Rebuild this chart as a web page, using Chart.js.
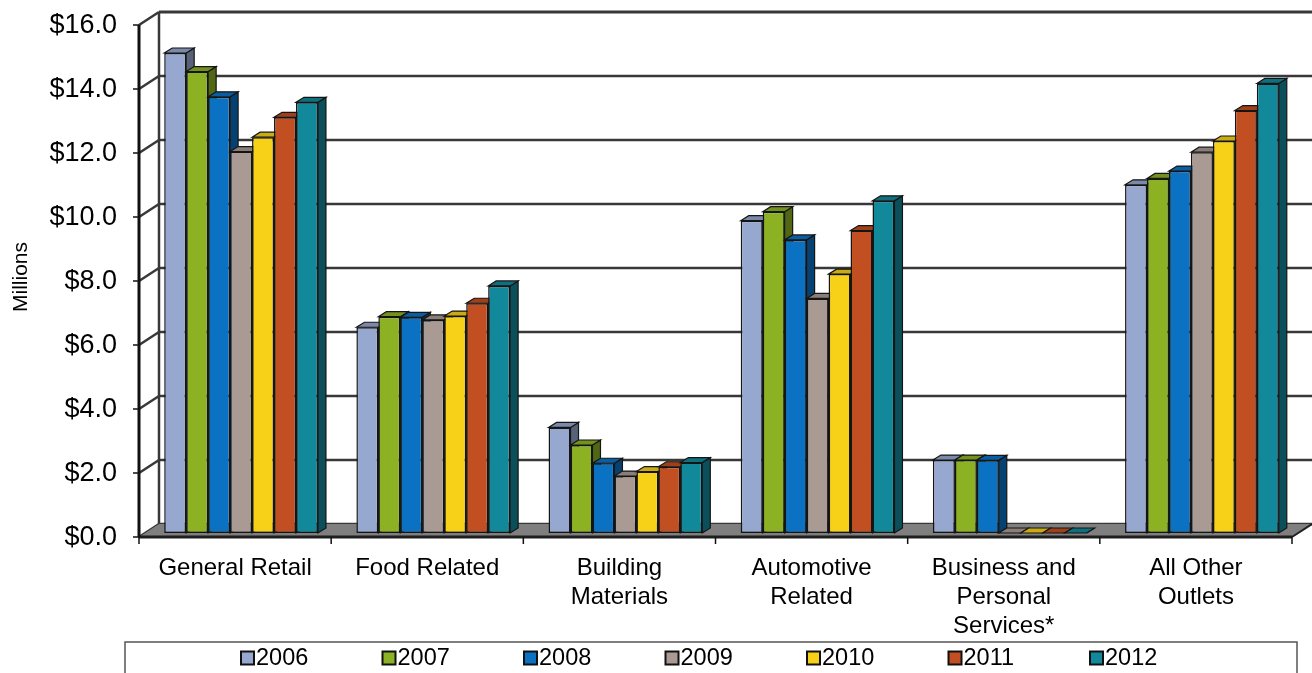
<!DOCTYPE html>
<html>
<head>
<meta charset="utf-8">
<title>Sales by Category</title>
<script src="https://cdn.jsdelivr.net/npm/chart.js@4.4.0/dist/chart.umd.min.js"></script>
<style>
  html, body { margin: 0; padding: 0; background: #ffffff; }
  #wrap { width: 1312px; height: 673px; }
</style>
</head>
<body>
<div id="wrap"><canvas id="salesChart" width="1312" height="673"></canvas></div>
<script>
// ------------------------------------
// Data (millions of dollars)
// ------------------------------------
const categories = [
    ['General Retail'],
    ['Food Related'],
    ['Building', 'Materials'],
    ['Automotive', 'Related'],
    ['Business and', 'Personal', 'Services*'],
    ['All Other', 'Outlets']
];
const years = ['2006', '2007', '2008', '2009', '2010', '2011', '2012'];

const sales2006 = [15.0, 6.43, 3.30, 9.76, 2.28, 10.88];
const sales2007 = [14.42, 6.76, 2.75, 10.04, 2.28, 11.08];
const sales2008 = [13.63, 6.74, 2.18, 9.16, 2.27, 11.31];
const sales2009 = [11.92, 6.66, 1.78, 7.33, 0, 11.9];
const sales2010 = [12.37, 6.78, 1.92, 8.09, 0, 12.25];
const sales2011 = [12.99, 7.18, 2.07, 9.45, 0, 13.2];
const sales2012 = [13.46, 7.72, 2.2, 10.38, 0, 14.05];

const yTicks = [0, 2, 4, 6, 8, 10, 12, 14, 16];

const seriesValues = [sales2006, sales2007, sales2008, sales2009, sales2010, sales2011, sales2012];
const seriesColors = ['#96a8cf', '#8cb123', '#0b72c3', '#a99a93', '#f7d117', '#c14f21', '#11899a'];

const FONT = "'Liberation Sans', Arial, sans-serif";

// offsets of the bar plane relative to front / back planes, and bar thickness
const FRONT = [-6, 4];
const BACK = [14, -9];
const BAR_DEPTH = [8, -5];

function shade(hex, f) {
    const n = parseInt(hex.slice(1), 16);
    const r = Math.round(((n >> 16) & 255) * f);
    const g = Math.round(((n >> 8) & 255) * f);
    const b = Math.round((n & 255) * f);
    return `rgb(${r},${g},${b})`;
}

function poly(ctx, pts, fill, stroke, lw) {
    ctx.beginPath();
    ctx.moveTo(pts[0][0], pts[0][1]);
    for (let i = 1; i < pts.length; i++) ctx.lineTo(pts[i][0], pts[i][1]);
    ctx.closePath();
    if (fill) { ctx.fillStyle = fill; ctx.fill(); }
    if (stroke) { ctx.strokeStyle = stroke; ctx.lineWidth = lw; ctx.stroke(); }
}

function line(ctx, x1, y1, x2, y2, color, lw) {
    ctx.beginPath();
    ctx.moveTo(x1, y1);
    ctx.lineTo(x2, y2);
    ctx.strokeStyle = color;
    ctx.lineWidth = lw;
    ctx.stroke();
}

// ------------------------------------
// Walls, floor and front axis
// ------------------------------------
const framePlugin = {
    id: 'frame3d',
    beforeDatasetsDraw(chart) {
        const { ctx, chartArea: a, scales: { y } } = chart;
        const y0 = y.getPixelForValue(yTicks[0]);
        const yTop = y.getPixelForValue(yTicks[yTicks.length - 1]);
        const gridColor = '#383838';
        ctx.save();

        // back wall
        poly(ctx, [[a.left + BACK[0], yTop + BACK[1]], [a.right + BACK[0], yTop + BACK[1]],
                   [a.right + BACK[0], y0 + BACK[1]], [a.left + BACK[0], y0 + BACK[1]]], '#ffffff');
        // left wall
        poly(ctx, [[a.left + FRONT[0], yTop + FRONT[1]], [a.left + BACK[0], yTop + BACK[1]],
                   [a.left + BACK[0], y0 + BACK[1]], [a.left + FRONT[0], y0 + FRONT[1]]], '#ffffff');

        // gridlines on the back and left walls
        yTicks.forEach(v => {
            const py = y.getPixelForValue(v);
            const lw = v === yTicks[yTicks.length - 1] ? 3 : 2.5;
            line(ctx, a.left + BACK[0], py + BACK[1], a.right + BACK[0], py + BACK[1], gridColor, lw);
            line(ctx, a.left + FRONT[0], py + FRONT[1], a.left + BACK[0], py + BACK[1], gridColor, 2.5);
        });
        line(ctx, a.left + BACK[0], yTop + BACK[1], a.left + BACK[0], y0 + BACK[1], gridColor, 2.5);

        // floor
        poly(ctx, [[a.left + FRONT[0], y0 + FRONT[1]], [a.right + FRONT[0], y0 + FRONT[1]],
                   [a.right + BACK[0], y0 + BACK[1]], [a.left + BACK[0], y0 + BACK[1]]], '#7f7f7f');
        line(ctx, a.left + FRONT[0], y0 + FRONT[1], a.right + FRONT[0], y0 + FRONT[1], '#1e1e1e', 3);
        line(ctx, a.right + FRONT[0], y0 + FRONT[1], a.right + BACK[0], y0 + BACK[1], '#1e1e1e', 2);

        // front value axis and its tick marks
        line(ctx, a.left + FRONT[0], yTop + FRONT[1], a.left + FRONT[0], y0 + FRONT[1], '#111', 3);
        yTicks.forEach(v => {
            const py = y.getPixelForValue(v) + FRONT[1];
            line(ctx, a.left + FRONT[0] - 6, py, a.left + FRONT[0], py, '#111', 1.5);
        });

        // category boundary ticks
        const step = a.width / categories.length;
        for (let k = 0; k <= categories.length; k++) {
            const px = a.left + FRONT[0] + k * step;
            line(ctx, px, y0 + FRONT[1], px, y0 + FRONT[1] + 7, '#111', 1.5);
        }
        ctx.restore();
    },

    // bars are drawn here so that each year overlaps the previous one's side face
    beforeDatasetDraw() {
        return false;
    },

    afterDatasetsDraw(chart) {
        const ctx = chart.ctx;
        const [dx, dy] = BAR_DEPTH;
        ctx.save();
        chart.data.datasets.forEach((ds, i) => {
            const meta = chart.getDatasetMeta(i);
            const color = seriesColors[i];
            meta.data.forEach(el => {
                el.draw(ctx, chart.chartArea);
                const { x, y, width, base } = el.getProps(['x', 'y', 'width', 'base'], true);
                const left = x - width / 2;
                const right = x + width / 2;
                const top = Math.min(y, base);
                const bottom = Math.max(y, base);
                poly(ctx, [[right, top], [right + dx, top + dy], [right + dx, bottom + dy], [right, bottom]],
                     shade(color, 0.58), '#151515', 1.2);
                poly(ctx, [[left, top], [left + dx, top + dy], [right + dx, top + dy], [right, top]],
                     shade(color, 0.82), '#151515', 1.2);
            });
        });
        ctx.restore();
    }
};

// ------------------------------------
// Boxed legend under the category labels
// ------------------------------------
const legendPlugin = {
    id: 'boxLegend',
    afterDraw(chart) {
        const ctx = chart.ctx;
        ctx.save();
        ctx.strokeStyle = '#555';
        ctx.lineWidth = 1.5;
        ctx.strokeRect(125, 642, 1172, 60);

        ctx.font = `23.5px ${FONT}`;
        ctx.textBaseline = 'middle';
        ctx.textAlign = 'left';
        chart.data.datasets.forEach((ds, i) => {
            const bx = 241 + i * 141.5;
            const by = 658;
            ctx.fillStyle = ds.backgroundColor;
            ctx.fillRect(bx, by - 6.5, 13, 13);
            ctx.strokeStyle = '#111';
            ctx.lineWidth = 2;
            ctx.strokeRect(bx, by - 6.5, 13, 13);
            ctx.fillStyle = '#000';
            ctx.fillText(ds.label, bx + 15, by + 1);
        });
        ctx.restore();
    }
};

// ------------------------------------
// Chart
// ------------------------------------
function initChart() {
    const ctx = document.getElementById('salesChart').getContext('2d');
    new Chart(ctx, {
        type: 'bar',
        data: {
            labels: categories,
            datasets: years.map((yr, i) => ({
                label: yr,
                data: seriesValues[i],
                backgroundColor: seriesColors[i],
                borderColor: '#151515',
                borderWidth: 1.5,
                borderSkipped: false,
                categoryPercentage: 0.8,
                barPercentage: 1.0
            }))
        },
        options: {
            responsive: false,
            animation: false,
            layout: { autoPadding: false, padding: { top: 21, right: 14, left: 0, bottom: 0 } },
            plugins: {
                legend: { display: false },
                title: { display: false },
                tooltip: { enabled: false }
            },
            scales: {
                x: {
                    grid: { display: false },
                    border: { display: false },
                    ticks: {
                        color: '#000',
                        font: { family: FONT, size: 24, lineHeight: 1.2 },
                        padding: 13,
                        labelOffset: -6,
                        maxRotation: 0,
                        autoSkip: false
                    },
                    afterFit(scale) { scale.height = 140; }
                },
                y: {
                    min: 0,
                    max: 16,
                    // the tick length only spaces the labels away from the front axis
                    grid: { display: false, tickLength: 28 },
                    border: { display: false },
                    ticks: {
                        stepSize: 2,
                        color: '#000',
                        padding: 0,
                        labelOffset: 5,
                        font: { family: FONT, size: 27 },
                        callback: v => '$' + Number(v).toFixed(1)
                    },
                    title: {
                        display: true,
                        text: 'Millions',
                        color: '#000',
                        font: { family: FONT, size: 21 },
                        padding: { top: 9, bottom: 0 }
                    },
                    afterFit(scale) { scale.width = 145; }
                }
            }
        },
        plugins: [framePlugin, legendPlugin]
    });
}

window.onload = initChart;
</script>
</body>
</html>
